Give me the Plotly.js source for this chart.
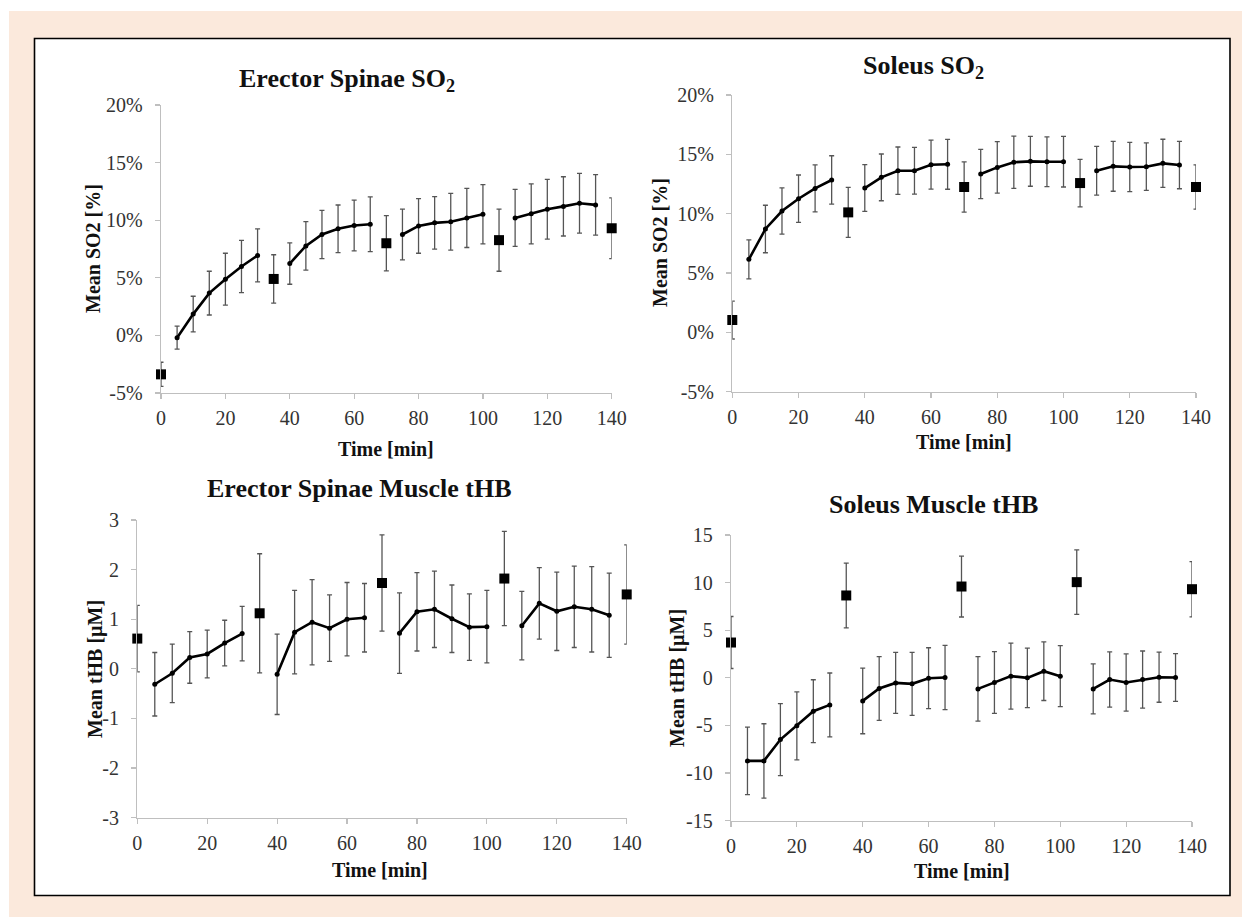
<!DOCTYPE html>
<html>
<head>
<meta charset="utf-8">
<script src="https://cdn.plot.ly/plotly-3.0.1.min.js"></script>
<style>
html,body{margin:0;padding:0;background:#fff;}
#chart{width:1242px;height:917px;}
</style>
</head>
<body>
<div id="chart"></div>
<script>
// ---- data ----
var lineTimes = [5,10,15,20,25,30, 40,45,50,55,60,65, 75,80,85,90,95,100, 110,115,120,125,130,135];
var squareTimes = [0,35,70,105,140];

var esSO2 = [-0.2,1.85,3.67,4.88,5.98,6.94, 6.24,7.77,8.76,9.25,9.54,9.65, 8.76,9.5,9.77,9.86,10.2,10.52, 10.2,10.55,10.95,11.2,11.47,11.33];
var esSO2Err = [1.0,1.55,1.9,2.25,2.27,2.3, 1.8,2.1,2.1,2.07,2.2,2.38, 2.2,2.37,2.28,2.46,2.57,2.57, 2.47,2.6,2.6,2.57,2.6,2.63];
var esSO2Sq = [-3.38,4.9,8.0,8.27,9.3];
var esSO2SqErr = [1.05,2.1,2.4,2.7,2.63];

var solSO2 = [6.15,8.71,10.22,11.26,12.13,12.84, 12.16,13.06,13.62,13.62,14.13,14.16, 13.34,13.9,14.33,14.41,14.38,14.38, 13.62,13.99,13.93,13.96,14.24,14.1];
var solSO2Err = [1.65,2.0,1.95,2.0,1.98,2.04, 1.97,1.97,2.0,1.97,2.06,2.1, 2.07,2.17,2.2,2.1,2.1,2.13, 2.05,2.1,2.07,2.0,2.03,2.0];
var solSO2Sq = [1.04,10.11,12.25,12.58,12.25];
var solSO2SqErr = [1.6,2.1,2.12,2.0,1.86];

var esTHB = [-0.31,-0.09,0.23,0.30,0.52,0.71, -0.11,0.74,0.94,0.82,1.0,1.03, 0.72,1.15,1.20,1.01,0.84,0.85, 0.87,1.32,1.16,1.25,1.20,1.08];
var esTHBErr = [0.64,0.59,0.52,0.48,0.46,0.55, 0.81,0.84,0.86,0.67,0.74,0.69, 0.81,0.79,0.77,0.68,0.67,0.73, 0.69,0.72,0.79,0.82,0.86,0.85];
var esTHBSq = [0.61,1.12,1.73,1.82,1.5];
var esTHBSqErr = [0.67,1.2,0.97,0.95,1.0];

var solTHB = [-8.72,-8.72,-6.48,-5.04,-3.50,-2.84, -2.42,-1.12,-0.53,-0.63,-0.04,0.04, -1.16,-0.49,0.18,0.0,0.70,0.18, -1.16,-0.18,-0.49,-0.18,0.07,0.04];
var solTHBErr = [3.55,3.9,3.78,3.57,3.3,3.35, 3.45,3.35,3.2,3.3,3.2,3.38, 3.38,3.25,3.47,3.12,3.08,3.2, 2.63,2.9,3.0,3.0,2.63,2.5];
var solTHBSq = [3.71,8.65,9.59,10.05,9.31];
var solTHBSqErr = [2.73,3.4,3.2,3.38,2.9];

var xTickVals = [0,20,40,60,80,100,120,140];
var xTickText = ['0','20','40','60','80','100','120','140'];
var so2TickVals = [-5,0,5,10,15,20];
var so2TickText = ['-5%','0%','5%','10%','15%','20%'];
var esTHBTickVals = [-3,-2,-1,0,1,2,3];
var esTHBTickText = ['-3','-2','-1','0','1','2','3'];
var solTHBTickVals = [-15,-10,-5,0,5,10,15];
var solTHBTickText = ['-15','-10','-5','0','5','10','15'];

var titles = ['Erector Spinae SO<sub>2</sub>','Soleus SO<sub>2</sub>','Erector Spinae Muscle tHB','Soleus Muscle tHB'];
var yTitles = ['Mean SO2 [%]','Mean SO2 [%]','Mean tHB [\u00b5M]','Mean tHB [\u00b5M]'];
var xTitle = 'Time [min]';

// ---- build ----
var W = 1242, H = 917;
function px(x){return x/W;}
function py(y){return 1 - y/H;}

var panels = [
  {v:esSO2, e:esSO2Err, sv:esSO2Sq, se:esSO2SqErr, xa:'x', ya:'y'},
  {v:solSO2, e:solSO2Err, sv:solSO2Sq, se:solSO2SqErr, xa:'x2', ya:'y2'},
  {v:esTHB, e:esTHBErr, sv:esTHBSq, se:esTHBSqErr, xa:'x3', ya:'y3'},
  {v:solTHB, e:solTHBErr, sv:solTHBSq, se:solTHBSqErr, xa:'x4', ya:'y4'}
];
var errColor = '#555555';
var traces = [];
panels.forEach(function(p){
  for (var s = 0; s < 4; s++) {
    traces.push({
      type:'scatter', mode:'lines+markers',
      x: lineTimes.slice(s*6, s*6+6), y: p.v.slice(s*6, s*6+6),
      xaxis:p.xa, yaxis:p.ya,
      line:{color:'#000', width:2.6},
      marker:{color:'#000', size:5, symbol:'circle'},
      error_y:{type:'data', array:p.e.slice(s*6, s*6+6), visible:true, color:errColor, thickness:1.3, width:2.5},
      cliponaxis:false, showlegend:false, hoverinfo:'x+y'
    });
  }
  traces.push({
    type:'scatter', mode:'markers',
    x: squareTimes, y: p.sv, xaxis:p.xa, yaxis:p.ya,
    marker:{color:'#000', size:10, symbol:'square'},
    error_y:{type:'data', array:p.se, visible:true, color:errColor, thickness:1.3, width:2.5},
    cliponaxis:false, showlegend:false, hoverinfo:'x+y'
  });
});

var tickFont = {family:'"Liberation Serif", "Times New Roman", serif', size:20, color:'#333'};
function xax(d0,d1,anchor){
  return {domain:[px(d0),px(d1)], range:[0,140], anchor:anchor, tickvals:xTickVals, ticktext:xTickText,
    showline:true, linecolor:'#bfbfbf', linewidth:1.3, ticks:'outside', ticklen:5, tickcolor:'#bfbfbf', tickwidth:1.2,
    showgrid:false, zeroline:false, tickfont:tickFont, ticklabelstandoff:2, automargin:false, fixedrange:true};
}
function yax(d0,d1,anchor,range,tv,tt){
  return {domain:[py(d1),py(d0)], range:range, anchor:anchor, tickvals:tv, ticktext:tt,
    showline:true, linecolor:'#bfbfbf', linewidth:1.3, ticks:'outside', ticklen:5, tickcolor:'#bfbfbf', tickwidth:1.2,
    showgrid:false, zeroline:false, tickfont:tickFont, ticklabelstandoff:8, automargin:false, fixedrange:true};
}

var titleFont = {family:'"Liberation Serif", "Times New Roman", serif', size:26, color:'#111'};
var axTitleFont = {family:'"Liberation Serif", "Times New Roman", serif', size:20, color:'#111'};
function ann(text,x,y,font,angle){
  return {text:'<b>'+text+'</b>', x:px(x), y:py(y), xref:'paper', yref:'paper', showarrow:false,
    xanchor:'center', yanchor:'middle', font:font, textangle:angle||0};
}

var layout = {
  width:W, height:H,
  margin:{l:0,r:0,t:0,b:0},
  paper_bgcolor:'#ffffff', plot_bgcolor:'rgba(0,0,0,0)',
  showlegend:false,
  xaxis: xax(161,611.7,'y'),
  yaxis: yax(105,393,'x',[-5,20],so2TickVals,so2TickText),
  xaxis2: xax(732.3,1196,'y2'),
  yaxis2: yax(95,391.7,'x2',[-5,20],so2TickVals,so2TickText),
  xaxis3: xax(137.3,626.7,'y3'),
  yaxis3: yax(520,817.7,'x3',[-3,3],esTHBTickVals,esTHBTickText),
  xaxis4: xax(731,1192,'y4'),
  yaxis4: yax(535,820.7,'x4',[-15,15],solTHBTickVals,solTHBTickText),
  shapes:[
    {type:'rect', xref:'paper', yref:'paper', x0:px(9), x1:px(1242), y0:py(917), y1:py(11),
      fillcolor:'#fbe9dc', line:{width:0}, layer:'below'},
    {type:'rect', xref:'paper', yref:'paper', x0:px(34.5), x1:px(1230), y0:py(895.5), y1:py(38.5),
      fillcolor:'#ffffff', line:{color:'#000', width:1.6}, layer:'below'}
  ],
  annotations:[
    ann(titles[0],347,80,titleFont),
    ann(titles[1],923,67,titleFont),
    ann(titles[2],359,488,titleFont),
    ann(titles[3],933,504,titleFont),
    ann(yTitles[0],93,249,axTitleFont,-90),
    ann(yTitles[1],660,243,axTitleFont,-90),
    ann(yTitles[2],95,669,axTitleFont,-90),
    ann(yTitles[3],677,678,axTitleFont,-90),
    ann(xTitle,386,449,axTitleFont),
    ann(xTitle,964,442,axTitleFont),
    ann(xTitle,380,870,axTitleFont),
    ann(xTitle,962,871,axTitleFont)
  ]
};

Plotly.newPlot('chart', traces, layout, {displayModeBar:false, staticPlot:true});
</script>
</body>
</html>
